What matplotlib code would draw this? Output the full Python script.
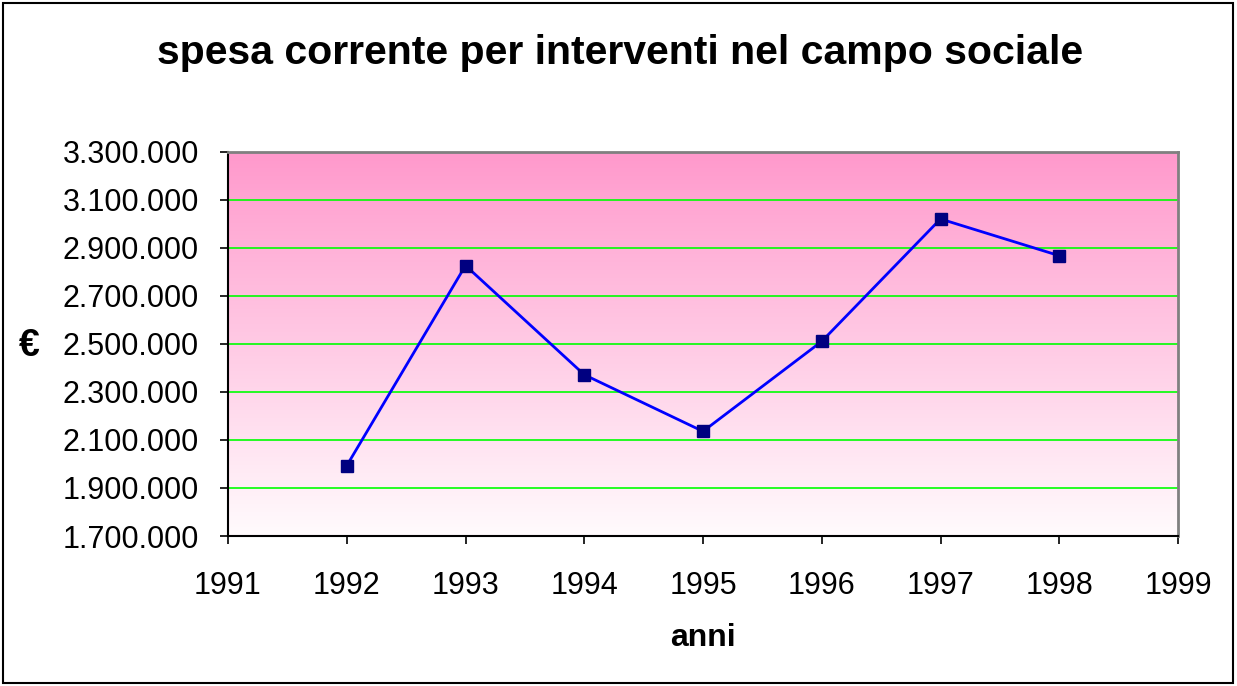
import numpy as np
import matplotlib
matplotlib.use("Agg")
import matplotlib.pyplot as plt
from matplotlib.colors import LinearSegmentedColormap
from matplotlib.patches import Rectangle
from matplotlib.ticker import FuncFormatter

plt.rcParams['font.family'] = ['Liberation Sans', 'DejaVu Sans']

years = [1992, 1993, 1994, 1995, 1996, 1997, 1998]
spesa = [1993000, 2827000, 2372000, 2136000, 2511000, 3021000, 2868000]
title = "spesa corrente per interventi nel campo sociale"
xlabel = "anni"
ylabel = "€"

fig = plt.figure(figsize=(12.37, 6.86), dpi=100)
ax = fig.add_axes([228/1237, 150/686, (1178-228)/1237, (536-152)/686])

ymin, ymax = 1700000, 3300000
xmin, xmax = 1991, 1999

# gradient background
cmap = LinearSegmentedColormap.from_list("pinkgrad", ["#FFFBFD", "#FF99CC"])
grad = np.linspace(0, 1, 256).reshape(-1, 1)
ax.imshow(grad, aspect='auto', cmap=cmap, origin='lower',
          extent=[xmin, xmax, ymin, ymax], zorder=0)

ax.set_xlim(xmin, xmax)
ax.set_ylim(ymin, ymax)
ax.set_xticks(range(1991, 2000))
ax.set_yticks(np.arange(1700000, 3300001, 200000))
ax.yaxis.set_major_formatter(FuncFormatter(lambda v, p: f"{int(v):,}".replace(",", ".")))

ax.grid(axis='y', color='#00FF00', linewidth=1.2, zorder=1)

ax.plot(years, spesa, color='#0000FF', linewidth=2, zorder=3)
ax.plot(years, spesa, linestyle='none', marker='s', markersize=9,
        markerfacecolor='#000080', markeredgecolor='#000080', zorder=4)

for s in ['top', 'right']:
    ax.spines[s].set_color('#808080')
    ax.spines[s].set_linewidth(2)
for s in ['left', 'bottom']:
    ax.spines[s].set_color('black')
    ax.spines[s].set_linewidth(1.5)
for s in ax.spines.values():
    s.set_zorder(5)

ax.tick_params(axis='both', direction='out', length=6, width=1.2, labelsize=22, colors='black')
ax.tick_params(axis='x', pad=19)
ax.tick_params(axis='y', pad=15)

fig.text(620/1237, 1 - 53/686, title, ha='center', va='center', fontsize=29.5, fontweight='bold')
fig.text(703/1237, 1 - 638/686, xlabel, ha='center', va='center', fontsize=23, fontweight='bold')
fig.text(29/1237, 1 - 346/686, ylabel, ha='center', va='center', fontsize=27, fontweight='bold')

fig.patches.append(Rectangle((3/1237, 3/686), 1230/1237, 680/686, transform=fig.transFigure,
                             fill=False, edgecolor='black', linewidth=1.5))

fig.savefig("out.png", dpi=100)
